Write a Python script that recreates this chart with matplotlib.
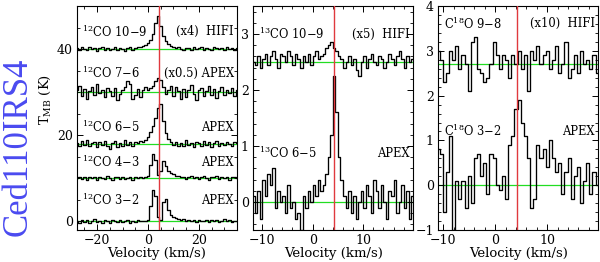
import numpy as np
import matplotlib
matplotlib.use("Agg")
import matplotlib.pyplot as plt
from matplotlib.ticker import MultipleLocator

plt.rcParams['font.family'] = ['DejaVu Serif']
plt.rcParams['mathtext.fontset'] = 'dejavuserif'

V_LSR = 4.2

# ---- panel 1: 12CO ladder, 1 km/s channels from -28 km/s ----
v12_start, v12_step = -28.0, 1.0
co32 = [0.2, -0.3, 0.4, -0.1, 0.3, -0.4, 0.1, 0.5, -0.2, 0.2, -0.3, 0.3, 0.0, -0.4, 0.4, 0.1,
        -0.2, 0.3, -0.1, 0.2, 0.4, -0.3, 0.1, -0.2, 0.3, 0.0, 0.2, 0.1,
        0.4, 3.5, 7.4, 6.0, 1.0, 0.3, 4.5, 5.3, 2.6, 1.4, 1.0, 0.7, 0.6, 0.4,
        0.5, 0.2, 0.4, 0.1, 0.3, -0.2, 0.4, 0.2, 0.0, 0.3, -0.1, 0.4, 0.1, 0.3, -0.2, 0.2,
        0.5, 0.0, 0.3, -0.1, 0.2, 0.1]
co43 = [0.1, 0.4, -0.2, 0.3, -0.4, 0.2, 0.0, 0.3, -0.3, 0.4, 0.1, -0.2, 0.5, 0.0, -0.3, 0.2,
        0.3, -0.1, 0.4, -0.2, 0.1, 0.3, -0.3, 0.2, 0.0, 0.4, 0.1, 0.3,
        0.6, 3.0, 5.6, 4.2, 0.8, 1.6, 4.0, 2.8, 1.8, 1.2, 0.9, 0.6, 0.5, 0.3,
        0.4, -0.1, 0.3, 0.5, 0.0, 0.4, -0.2, 0.3, 0.6, 0.1, -0.3, 0.4, 0.2, 0.5, -0.1, 0.3,
        0.0, 0.4, -0.3, 0.2, 0.4, 0.0]
co65 = [0.3, -0.5, 0.6, -0.2, 0.8, -0.6, 0.1, 0.5, -0.8, 0.4, -0.3, 0.7, -0.5, -1.2, 0.2, 0.6,
        -0.7, 0.3, -0.4, 0.9, -0.2, 0.4, -0.6, 0.5, 0.1,
        0.6, 0.4, 1.0, 1.6, 2.8, 4.2, 6.0, 8.4, 9.3, 5.2, 2.6, 1.2, 0.4, -0.2, 0.5, -0.4,
        0.3, -0.6, 0.8, -0.3, 0.2, -0.8, 0.5, 0.1, -0.5, 0.7, -0.2, 0.4, -0.7, 0.3, 0.6, -0.4,
        0.2, -0.3, 0.5, 0.0, -0.5, 0.4, 0.1]
co76 = [0.5, 1.5, -1.0, 0.8, -1.5, 0.3, 1.2, -0.6, 1.8, -0.2, 0.6, -1.2, 0.9, 0.3, -0.8, 1.0,
        -1.8, -0.5, 0.4, 1.2, 2.5, 1.8, -1.5, -0.6, 0.8, -1.2, 0.5, 1.2,
        0.4, 1.0, 1.5, 2.6, 3.2, 2.9, 1.2, -0.5, 0.6,
        1.5, -0.8, 1.2, 0.3, -1.5, 0.8, -1.2, 0.5, 1.6, -0.4, -1.8, 0.6, 1.0, -0.9, 0.3, 1.4,
        -0.6, 0.8, -1.3, 0.2, 1.1, -0.7, 0.5, -0.2, 0.9, -1.0, 0.4]
co109 = [0.2, -0.3, 0.4, 0.1, -0.2, 0.5, 0.0, 0.3, -0.4, 0.2, 0.6, -0.1, 0.3, -0.3, 0.1, 0.4,
         -0.2, 0.3, 0.0, -0.4, 0.2, 0.5, -0.1, 0.3, 0.4,
         0.5, 0.7, 1.0, 1.5, 2.2, 3.6, 6.0, 7.7, 5.4, 3.0, 1.8, 1.2, 0.8, 0.5, 0.3, 0.4,
         0.1, -0.2, 0.3, 0.2, -0.3, 0.4, 0.0, 0.2, 0.5, -0.1, 0.3, 0.1, -0.3, 0.4, 0.2, 0.0,
         0.3, -0.2, 0.4, 0.1, 0.3, -0.1, 0.2]
co12_spectra = [co32, co43, co65, co76, co109]
co12_offsets = [0, 10, 18, 30, 40]
co12_names = ["$^{12}$CO 3$-$2", "$^{12}$CO 4$-$3", "$^{12}$CO 6$-$5",
              "$^{12}$CO 7$-$6", "$^{12}$CO 10$-$9"]
co12_tags = ["APEX", "APEX", "APEX", "(x0.5) APEX", "(x4)  HIFI"]
co12_label_y = [4.9, 13.7, 21.9, 34.4, 44.0]

# ---- panel 2: 13CO, 0.5 km/s channels ----
v13_start, v13_step = -11.75, 0.5
c13_65 = [0.1, -0.2, 0.2, -0.3, 0.4, 0.1, 0.5, 0.3, 0.6, -0.1, 0.2, 0.0, 0.1, -0.2, 0.3, -0.1,
          0.0, -0.3, -0.2, -0.5, 0.1, -0.1, 0.2, 0.0, 0.3, 0.1, 0.4, 0.2, 0.3,
          0.5, 0.8, 1.2, 2.25, 1.6, 0.8, 0.4, 0.1, -0.1, 0.2,
          -0.2, 0.1, -0.3, 0.0, 0.2, -0.1, 0.3, 0.1, -0.2, 0.4, 0.2, -0.1, 0.3, 0.0, -0.3, 0.2,
          0.1, 0.4, -0.2, 0.0, 0.3, -0.1, 0.2, -0.3, 0.1]
c13_109 = [0.0, -0.05, 0.1, -0.1, 0.05, 0.15, -0.05, 0.1, 0.2, 0.05,
           -0.1, 0.15, 0.1, 0.0, 0.2, 0.1, -0.05, 0.15, 0.05, -0.1,
           0.1, 0.0, 0.15, -0.05, 0.1, 0.2, 0.05, 0.1, 0.15, 0.25,
           0.3, 0.35, 0.25, 0.2, 0.1, 0.05, -0.1, 0.0, 0.1, -0.05,
           0.05, -0.15, -0.25, 0.0, 0.1, -0.1, 0.05, 0.15, 0.0, -0.05,
           0.1, 0.05, -0.1, 0.0, 0.15, 0.05, -0.05, 0.1, 0.2, 0.05,
           -0.1, 0.1, 0.0, 0.05]
c13_spectra = [c13_65, c13_109]
c13_offsets = [0, 2.5]
c13_names = ["$^{13}$CO 6$-$5", "$^{13}$CO 10$-$9"]
c13_tags = ["APEX", "(x5)  HIFI"]
c13_label_y = [0.87, 3.0]

# ---- panel 3: C18O, 0.6 km/s channels ----
v18_start, v18_step = -11.0, 0.6
c18_32 = [0.8, 0.7, -0.6, 0.3, 1.1, -1.0, 0.1, -0.3, 0.1, -0.5, 0.2, -0.4, 0.6, 0.7, 0.2, 0.5,
          -0.2, 0.7, 0.6, 0.0, -0.1, 0.2, -0.3, 0.9, 1.1, 1.7, 1.9, 1.4, 1.1, 0.6, -0.5, -0.3,
          0.9, 0.6, 0.8, 0.4, 1.0, 0.6, 0.3, 0.5, -0.2, 0.3, 0.6, -0.3, 0.2, 0.4, -0.4, 0.1,
          0.5, -0.2, 0.3, 0.0]
c18_98 = [0.3, 0.1, -0.4, -0.2, 0.3, 0.1, 0.4, -0.1, 0.2, 0.0, -0.6, 0.5, 0.6, -0.1, -0.2, -0.4,
          -0.3, 0.0, 0.5, 0.2, -0.1, 0.2, 0.1, -0.3, 0.2, 0.0, 0.3, -0.1, 0.2, -0.6, 0.3, 0.1,
          0.4, 0.0, 0.2, 0.3, -0.1, 0.1, 0.4, -0.2, 0.0, 0.5, -0.3, -0.1, 0.2, -0.2, 0.3, 0.0,
          0.1, -0.1, 0.2, -0.2]
c18_spectra = [c18_32, c18_98]
c18_offsets = [0, 2.7]
c18_names = ["C$^{18}$O 3$-$2", "C$^{18}$O 9$-$8"]
c18_tags = ["APEX", "(x10)  HIFI"]
c18_label_y = [1.2, 3.6]

panels = [
    dict(start=v12_start, step=v12_step, spectra=co12_spectra, offsets=co12_offsets,
         names=co12_names, tags=co12_tags, label_y=co12_label_y,
         xlim=(-28, 35), ylim=(-2, 50), xmaj=20, xmin=5, ymaj=20, ymin=5, left=0.128),
    dict(start=v13_start, step=v13_step, spectra=c13_spectra, offsets=c13_offsets,
         names=c13_names, tags=c13_tags, label_y=c13_label_y,
         xlim=(-11.8, 19.9), ylim=(-0.5, 3.5), xmaj=10, xmin=2, ymaj=1, ymin=0.2, left=0.4217),
    dict(start=v18_start, step=v18_step, spectra=c18_spectra, offsets=c18_offsets,
         names=c18_names, tags=c18_tags, label_y=c18_label_y,
         xlim=(-11, 19.8), ylim=(-1, 4), xmaj=10, xmin=2, ymaj=1, ymin=0.2, left=0.73),
]

fig = plt.figure(figsize=(6.0, 2.62), dpi=100)

for p in panels:
    ax = fig.add_axes([p['left'], 0.122, 0.267, 0.855])
    x0, x1 = p['xlim']
    for spec, off, name, tag, ly in zip(p['spectra'], p['offsets'], p['names'],
                                        p['tags'], p['label_y']):
        spec = np.asarray(spec)
        vel = p['start'] + p['step'] * np.arange(len(spec))
        ax.axhline(off, color='#22dd22', lw=0.9, zorder=1)
        ax.plot(vel, spec + off, drawstyle='steps-mid', color='black', lw=0.95, zorder=2)
        ax.text(x0 + 0.035 * (x1 - x0), ly, name, fontsize=8.3, va='center', ha='left')
        ax.text(x1 - 0.02 * (x1 - x0), ly, tag, fontsize=8.3, va='center', ha='right')
    ax.axvline(V_LSR, color='#e0393e', lw=1.0, zorder=3)
    ax.set_xlim(p['xlim'])
    ax.set_ylim(p['ylim'])
    ax.xaxis.set_major_locator(MultipleLocator(p['xmaj']))
    ax.xaxis.set_minor_locator(MultipleLocator(p['xmin']))
    ax.yaxis.set_major_locator(MultipleLocator(p['ymaj']))
    ax.yaxis.set_minor_locator(MultipleLocator(p['ymin']))
    ax.tick_params(which='both', direction='in', top=True, right=True, labelsize=9, pad=3)
    ax.tick_params(which='major', length=4, width=0.7)
    ax.tick_params(which='minor', length=2, width=0.6)
    for s in ax.spines.values():
        s.set_linewidth(0.8)
    ax.set_xlabel('Velocity (km/s)', fontsize=9.5, labelpad=0)

fig.text(0.075, 0.62, 'T$_{\\rm MB}$ (K)', rotation=90, fontsize=9.5, ha='center', va='center')
fig.text(0.03, 0.44, 'Ced110IRS4', rotation=90, fontsize=25, color='#4a4af0',
         family='Liberation Serif', ha='center', va='center')

fig.savefig('out.png', dpi=100)
